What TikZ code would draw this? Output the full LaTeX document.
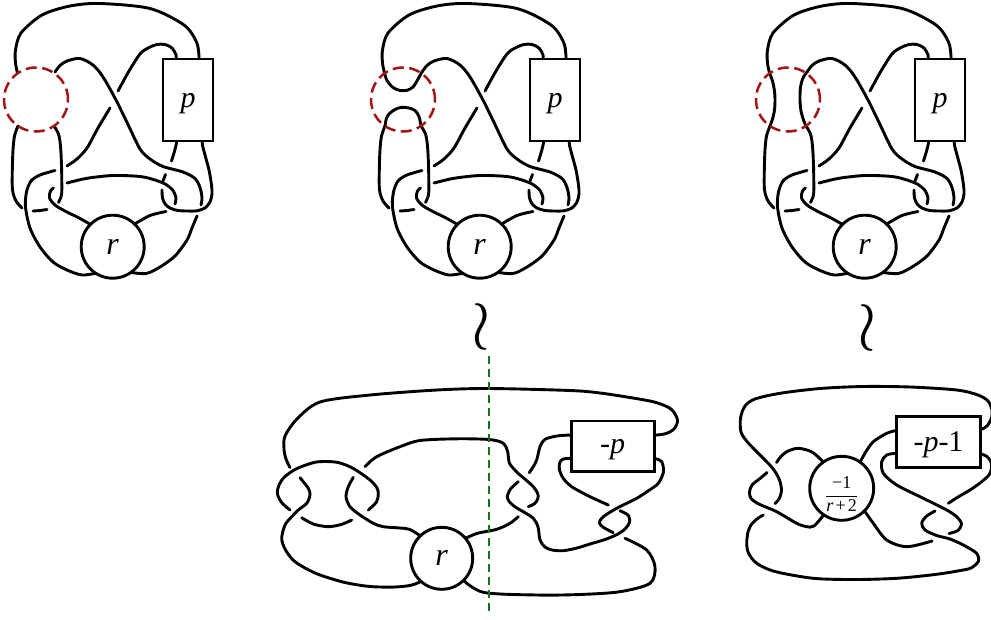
\documentclass[tikz,border=0pt]{standalone}
\usepackage{fontspec}
\setmainfont{Liberation Serif}
\definecolor{dred}{RGB}{160,22,22}
\definecolor{dgreen}{RGB}{25,115,25}
\newcommand{\topbase}[1]{%
 % A
 \draw[kn] plot[smooth] coordinates {(17.5,73) (15.5,63) (15.5,50) (21,33) (42,15) (70,6) (100,3.5) (150,8.5) (184,25) (196.5,42) (199,56) (199,63)};
 % B
 \draw[kn] plot[smooth] coordinates {(176,63) (176,55) (172,48) (165,44.5) (157,44.5) (148,48) (140,54) (129,71) (118,91)};
 \draw[kn] plot[smooth] coordinates {(110,108) (98,128) (87,148) (77,159) (67,166)};
 \draw[kn] plot[smooth] coordinates {(55,170.5) (40,175) (31,181) (26.5,192) (25.5,207) (30,228) (40,247) (53,262) (67,270) (82,275) (97,273)};
 % D
 \draw[kn] plot[smooth] coordinates {(55,72) (60,65.5) (67,61) (80,58.5) (93,65) (103,77) (116,100) (128,124.5) (140,149) (150,159) (163,166.5) (183,172) (195,178.5) (200,187.5) (202,198) (201,205)};
 \draw[kn] plot[smooth] coordinates {(197,216) (192,228) (187,240) (175,256) (160,267) (146,273.5) (128,272)};
 % ring
 \draw[kn] plot[smooth] coordinates {(93,226) (80,218.5) (64,210.5) (55,205) (49.5,198) (50.5,191) (53.5,188)};
 \draw[kn] plot[smooth] coordinates {(67,183) (87,178.3) (113,175.5) (140,176.5) (155,180) (166,184.5) (173,190.5) (176,198) (175,204)};
 \draw[kn] plot[smooth] coordinates {(166,211.5) (150,215.5) (133,225)};
 % C and U
 \draw[kn] plot[smooth] coordinates {(54,126) (58.5,134) (60.5,146) (61.5,165) (61.8,183) (61.5,195) (58.5,202.5)};
 \draw[kn] plot[smooth] coordinates {(47,209.5) (40,210.5) (33,211)};
 \draw[kn] plot[smooth] coordinates {(22,208) (16,201) (12.5,190) (12.3,170) (13,150) (14.5,136) (18,126)};
 % loop under box
 \draw[kn] plot[smooth] coordinates {(176.8,137) (176.5,143) (174.3,152) (171.5,161)};
 \draw[kn] plot[smooth] coordinates {(165.5,174.5) (163,181)};
 \draw[kn] plot[smooth] coordinates {(162,190) (162.5,198) (165.5,204.5) (171,208.5) (178,210.5) (187,211) (197,210.8) (205,208) (210,202) (212,194) (211.5,185) (209,170) (205,155) (202.5,145) (202,137)};
 \node[boxn,minimum width=50pt,minimum height=82pt] (box#1) at (188,100) {\fontsize{30}{30}\selectfont\textit{p}};
 \node[circn,minimum size=63pt] (rc#1) at (112.7,246.7) {\fontsize{32}{32}\selectfont\textit{r}};
}
\begin{document}
\begin{tikzpicture}[x=1pt,y=-1pt,
  kn/.style={line width=2.9pt,line cap=round,line join=round},
  boxn/.style={draw,line width=2.9pt,fill=white,inner sep=0pt,text depth=0pt},
  circn/.style={draw,circle,line width=2.9pt,fill=white,inner sep=0pt,text depth=0pt},
  reddash/.style={draw=dred,circle,line width=2.5pt,dash pattern=on 11pt off 5.5pt,inner sep=0pt,minimum size=64pt}]
\useasboundingbox (0,0) rectangle (991,619);

% ---------- diagram 1 ----------
\begin{scope}
 \topbase{1}
 \node[reddash] (red1) at (36,99.5) {};
\end{scope}

% ---------- diagram 2 ----------
\begin{scope}[xshift=367pt]
 \topbase{2}
 \draw[kn] plot[smooth] coordinates {(17.5,73) (20,80.5) (26,87.5) (33,90.5) (40,90.3) (46,87) (50.5,80) (53,75.5) (55,72)};
 \draw[kn] plot[smooth] coordinates {(18,126) (19.5,118) (23,113) (29,109) (35,107.3) (42,108) (48,110.5) (52,116.5) (54,126)};
 \node[reddash] (red2) at (36,99.5) {};
\end{scope}

% ---------- diagram 3 ----------
\begin{scope}[xshift=752pt]
 \topbase{3}
 \draw[kn] plot[smooth] coordinates {(17.5,73) (20.5,81) (22.5,91) (23,100) (22.5,110) (20.5,119) (18,126)};
 \draw[kn] plot[smooth] coordinates {(55,72) (51,78) (48.5,87) (48,100) (49,111) (51.5,120) (54,126)};
 \node[reddash] (red3) at (36,99.5) {};
\end{scope}

% ---------- wreath symbols ----------
\node[inner sep=0pt] (w1) at (481,327) {\scalebox{7}{$\wr$}};
\node[inner sep=0pt] (w2) at (867,328) {\scalebox{7}{$\wr$}};

% ---------- bottom middle ----------
\draw[kn] plot[smooth] coordinates {(650,435) (657,435) (666,433.5) (674,429) (677.5,420) (671,409) (656,402.5) (636,398.5) (600,393) (570,390.5) (489,388.5) (437,390) (370,395) (320,402) (297,419) (285,436) (284,449) (286,459) (290,467.5)};
\draw[kn] plot[smooth] coordinates {(290,510) (282,503) (278,496) (277.5,490) (280,483) (285,476.5) (297,468.5) (316.5,462) (337,462.3) (353,468.3) (370,480) (377,488) (378.3,494) (376.5,502) (368.3,510)};
\draw[kn] plot[smooth] coordinates {(301.7,517.7) (313.3,524) (328.3,526.7) (341.7,524.3) (351.7,520)};
\draw[kn] plot[smooth] coordinates {(300,477.7) (308.3,488.3) (310,495) (306.7,503.3) (298.3,510) (291.7,516.7) (285,525) (281.7,538.3) (285,549) (293,560) (305,568) (320,575) (345,582.5) (370,586.5) (395,587) (412,585) (424,580)};
\draw[kn] plot[smooth] coordinates {(365,466.7) (372,460) (380,455) (400,446.7) (420,440.5) (456.7,438.8) (489,439.5) (503,443) (507.5,451) (509.3,463) (514,469) (518,473.3) (526,480) (533.3,486.7) (537.5,493) (538,498) (535,503.3) (528.3,506.7)};
\draw[kn] plot[smooth] coordinates {(518.3,516.7) (510,523.3) (496.7,529.3) (476.7,533.5) (462,540)};
\draw[kn] plot[smooth] coordinates {(353.3,477.3) (348.3,486.7) (346,496.7) (350,506.7) (360,515) (373.3,523.3) (383.3,526.7) (400,528) (410,529.5) (422,537)};
\draw[kn] plot[smooth] coordinates {(575,435) (566,435.2) (556.7,436) (545,439.3) (540,446.7) (536.7,460) (533,467) (529.3,472.7)};
\draw[kn] plot[smooth] coordinates {(518.3,481.7) (510.5,489) (507.3,497) (510,502.5) (516,507.5) (523.3,511.7) (533.3,518.3) (538,526.7) (540,540) (545,547) (552,550) (563.3,550.7) (577,548) (590,544) (605,539.5) (617,534.5) (625,529) (629.5,522.5) (628.5,515.5) (620,510.7)};
\draw[kn] plot[smooth] coordinates {(608.3,505) (590,496.7) (571.7,486.7) (563,478) (559.3,469) (560,462) (563.3,459) (570,458.3) (575,458.3)};
\draw[kn] plot[smooth] coordinates {(650,458.3) (656,458.8) (661.7,461.7) (663.5,471.7) (658.3,483.3) (648,491) (636.7,498.3) (616.7,508.3) (603.3,516.7) (599.3,522.7) (603.3,527.3) (613.3,532.7)};
\draw[kn] plot[smooth] coordinates {(625,538.3) (646.7,550) (655,566.7) (650,583.3) (620,591.7) (580,594.5) (536.7,595) (483.3,592.3) (462,579)};
\node[boxn,minimum width=83.3pt,minimum height=50.7pt] (boxm) at (612.7,446.3) {\fontsize{30}{30}\selectfont -\textit{p}};
\node[circn,minimum size=62pt] (rm) at (441.7,558.3) {\fontsize{32}{32}\selectfont\textit{r}};

% ---------- bottom right ----------
\draw[kn] plot[smooth] coordinates {(976,430) (981,429.5) (987,426) (991.5,418) (992,410) (988,401) (978,395) (956.7,390) (910,387) (863.3,386.5) (820,388.5) (780,393.3) (755,399) (745,406) (740.5,418) (741,432) (747,441.5) (756,451) (766,461) (774,470) (779.5,480) (781.5,490.5) (779,499) (775,503.5)};
\draw[kn] plot[smooth] coordinates {(826,466) (823.3,462) (812,452) (798.3,448.3) (787,451.5) (780.5,457) (776.5,462.5)};
\draw[kn] plot[smooth] coordinates {(767,472.5) (760,478.5) (752,485) (749.5,492) (751,498.5) (757,503) (763.3,506) (776.7,511.7) (796.7,523.3) (806,526.5) (814,526) (826,512)};
\draw[kn] plot[smooth] coordinates {(935,511) (926,516.5) (921.7,523.3) (925,530) (936.7,535.5) (950,539) (963.3,545) (976.7,553.3) (978.5,561) (972,567.5) (963.3,570) (935,574.5) (896.7,578.3) (855,579.5) (813.3,578.3) (775,571.5) (756.7,563.3) (748.5,553) (746.7,543.3) (748,532) (751,525) (757,519) (763.3,515)};
\draw[kn] plot[smooth] coordinates {(857,466) (860,462) (866,451.5) (873.3,441.7) (886.7,433.3) (896,430.5) (901,430)};
\draw[kn] plot[smooth] coordinates {(901,453.3) (896,453.3) (886.7,455) (881.7,461.7) (883.3,473.3) (896.7,485) (923.3,498.3) (946.7,510) (957,517) (961.5,524) (958,530.5) (949,533.5)};
\draw[kn] plot[smooth] coordinates {(932,541) (906.7,546.7) (886.7,540) (873.3,523.3) (865,511.7) (861,508)};
\draw[kn] plot[smooth] coordinates {(976,453.5) (981,454) (987,456.5) (991,462) (991.5,468) (989,475) (980,483) (970,490) (958,497) (948.3,503.3)};
\node[boxn,minimum width=84pt,minimum height=50.8pt] (boxr) at (938.5,441.9) {\fontsize{30}{30}\selectfont -\textit{p}-1};
\node[circn,minimum size=64pt] (rr) at (841.7,488.3) {\fontsize{18}{18}\selectfont$\displaystyle\frac{\mbox{−1}}{\mbox{\textit{r}\hspace{0.12em}+\hspace{0.12em}2}}$};

% ---------- green dashed line ----------
\coordinate (g1) at (489,356);
\coordinate (g2) at (489,614);
\draw[dgreen,line width=2pt,dash pattern=on 8pt off 5pt] (g1) -- (g2);
\end{tikzpicture}
\end{document}
